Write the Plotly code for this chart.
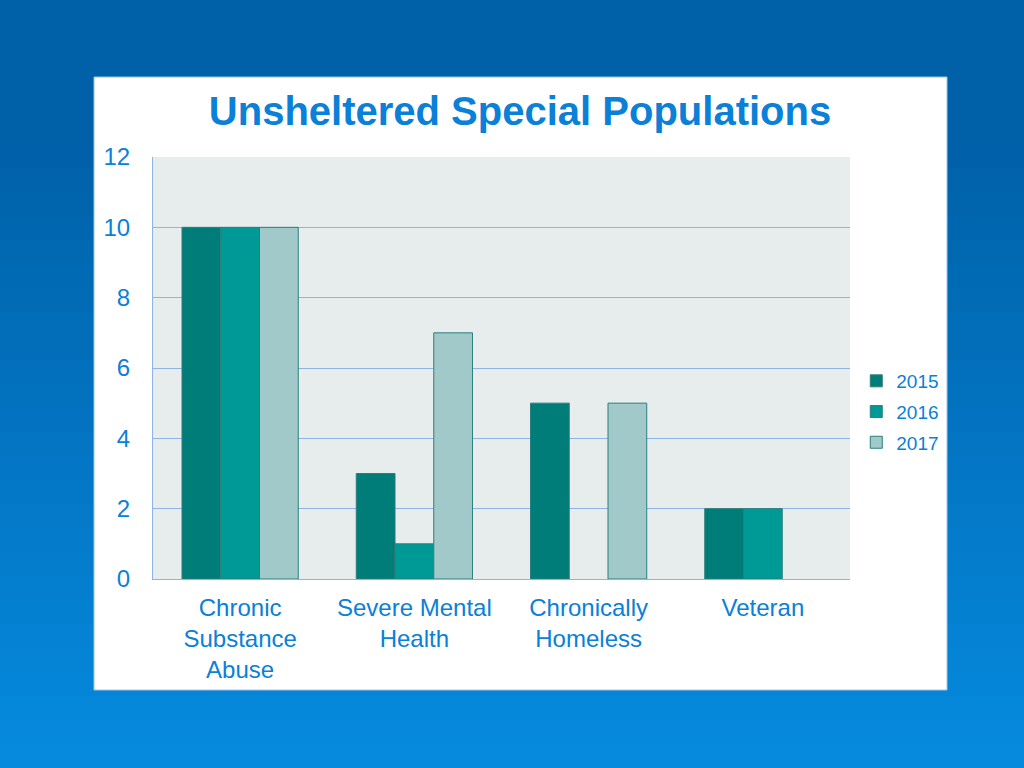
import plotly.graph_objects as go

categories = ["Chronic<br>Substance<br>Abuse", "Severe Mental<br>Health", "Chronically<br>Homeless", "Veteran"]
series_names = ["2015", "2016", "2017"]
values_2015 = [10, 3, 5, 2]
values_2016 = [10, 1, None, 2]
values_2017 = [10, 7, 5, None]
y_ticks = [0, 2, 4, 6, 8, 10, 12]

colors = ["#007C79", "#009A96", "#A2C9C9"]
text_color = "#0A80D8"
font_family = "Liberation Sans, Arial, sans-serif"

W, H = 1024, 768
L, R, T, B = 153, 850, 157, 579  # plot area pixel box
pw, ph = R - L, B - T

def px_x(x):
    return (x - L) / pw

def px_y(y):
    return (B - y) / ph

fig = go.Figure()
for name, vals, col in zip(series_names, [values_2015, values_2016, values_2017], colors):
    fig.add_trace(go.Bar(
        x=categories, y=vals, name=name, legendgroup=name,
        marker=dict(color=col, line=dict(color="#2A7F7C", width=1)),
    ))

shapes = []
# background gradient bands
top_c = (0x00, 0x61, 0xA9)
bot_c = (0x06, 0x8B, 0xDF)
n = 32
for i in range(n):
    y0p = i * H / n
    y1p = (i + 1) * H / n
    t = max(0.0, ((y0p + y1p) / 2 - 150) / (H - 150))
    c = tuple(int(round(a + (b - a) * t)) for a, b in zip(top_c, bot_c))
    shapes.append(dict(type="rect", xref="paper", yref="paper", layer="below",
                       x0=px_x(-5), x1=px_x(W + 5), y0=px_y(y1p + 1), y1=px_y(y0p),
                       fillcolor="rgb(%d,%d,%d)" % c, line=dict(width=0)))
# white panel
shapes.append(dict(type="rect", xref="paper", yref="paper", layer="below",
                   x0=px_x(94), x1=px_x(947), y0=px_y(690), y1=px_y(77),
                   fillcolor="white", line=dict(color="#9CC3EA", width=1)))
# plot area bg
shapes.append(dict(type="rect", xref="paper", yref="paper", layer="below",
                   x0=0, x1=1, y0=0, y1=1,
                   fillcolor="#E7ECED", line=dict(width=0)))

fig.update_layout(
    width=W, height=H,
    margin=dict(l=L, r=W - R, t=T, b=H - B),
    paper_bgcolor="rgb(0,97,169)",
    plot_bgcolor="rgba(0,0,0,0)",
    shapes=shapes,
    barmode="group",
    bargap=0.333,
    bargroupgap=0,
    title=dict(text="<b>Unsheltered Special Populations</b>", xref="container", x=520 / W,
               xanchor="center", yref="container", y=1 - 111 / H, yanchor="middle",
               font=dict(family=font_family, size=40, color=text_color)),
    font=dict(family=font_family, color=text_color),
    xaxis=dict(showgrid=False, showline=True, linecolor="#8DB4E2", linewidth=1,
               tickfont=dict(size=24, color=text_color), ticks="", ticklabelstandoff=7),
    yaxis=dict(range=[0, 12], tickvals=y_ticks, showgrid=True, gridcolor="#8DB4E2", gridwidth=1,
               showline=True, linecolor="#8DB4E2", linewidth=1, zeroline=False,
               tickfont=dict(size=24, color=text_color), ticks="", ticklabelstandoff=17),
    legend=dict(x=1.009, y=px_y(412), xanchor="left", yanchor="middle",
                font=dict(size=19, color=text_color), bgcolor="rgba(0,0,0,0)",
                tracegroupgap=3, itemwidth=30),
    showlegend=True,
)

fig.write_html("out.html", config={"displayModeBar": False},
               post_script="document.body.style.margin='0';document.body.style.overflow='hidden';")
